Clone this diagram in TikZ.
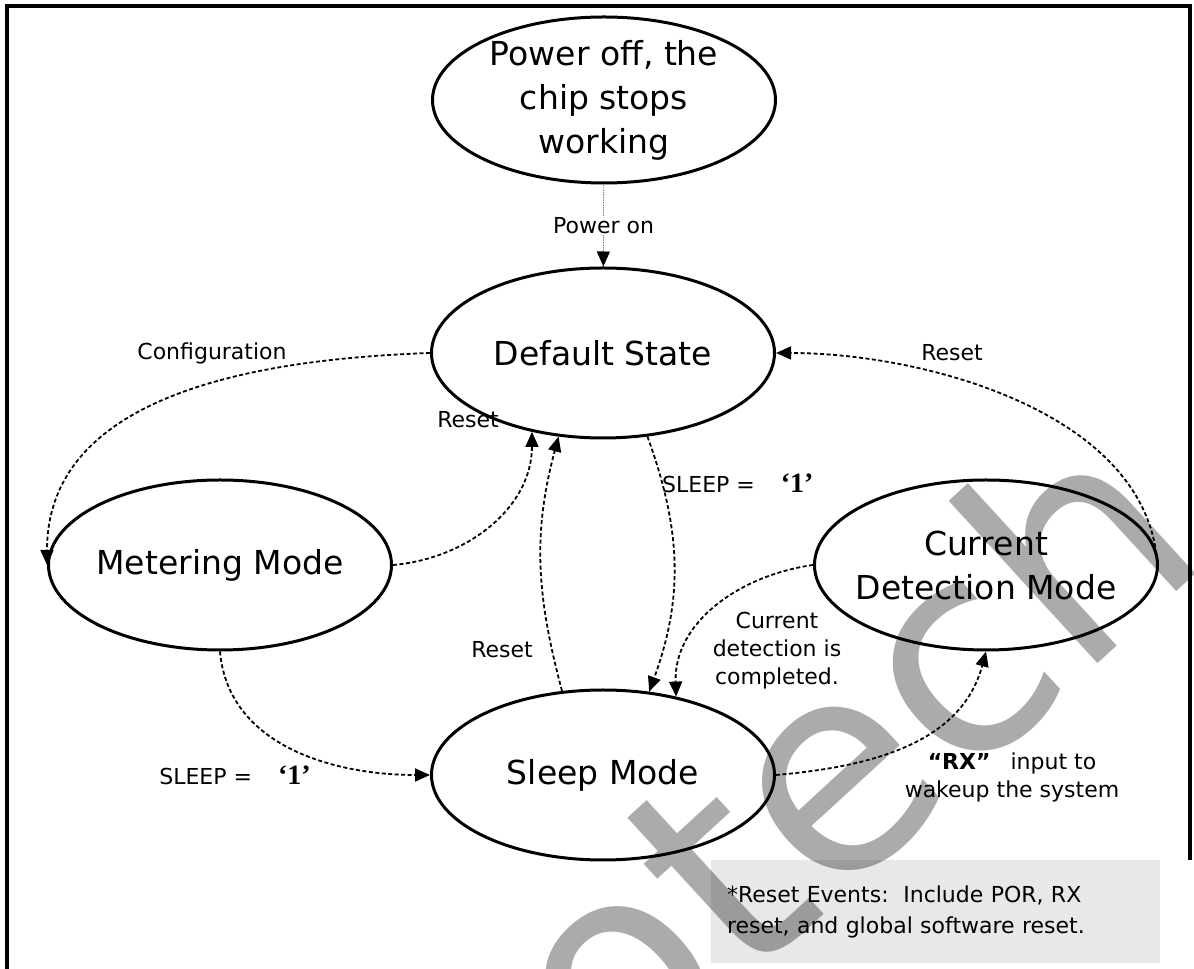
\documentclass[tikz,border=0pt]{standalone}
\usepackage{fontspec}
\setmainfont{DejaVu Sans}
\newfontfamily\quotefont{Liberation Serif}
\usetikzlibrary{shapes.geometric,arrows.meta}
\definecolor{notegray}{HTML}{E8E8E8}
\tikzset{
  state/.style={draw,ellipse,line width=3pt,minimum width=343pt,minimum height=170pt,inner sep=0pt},
  statelbl/.style={font=\fontsize{33}{44}\selectfont,align=center},
  trans/.style={line width=1.8pt,dash pattern=on 4pt off 2.5pt,-{Triangle[length=15pt,width=13pt]}},
  lbl/.style={font=\fontsize{22}{28}\selectfont,align=center,inner sep=1pt},
  notebox/.style={fill=notegray,minimum width=449pt,minimum height=103pt,text width=417pt,align=left,
    inner xsep=16pt,font=\fontsize{22}{31}\selectfont},
}
\newcommand{\one}{{\quotefont\bfseries\fontsize{28}{28}\selectfont ‘1’}}
\begin{document}
\begin{tikzpicture}[x=1pt,y=1pt]
  \useasboundingbox (0,0) rectangle (1194,969);
  \draw[line width=4pt] (7,-20) -- (7,963) -- (1190,963) -- (1190,109);
  \node[notebox] (note) at (935.5,57.5) {*Reset Events:\ \ Include POR, RX\\reset, and global software reset.};
  \node[state,minimum height=166pt,label={[statelbl]center:Power off, the\\chip stops\\working}] (pwroff) at (604,869) {};
  \node[state,label={[statelbl]center:Default State}] (default) at (603,616) {};
  \node[state,label={[statelbl]center:Metering Mode}] (meter) at (220,404) {};
  \node[state,label={[statelbl]center:Current\\Detection Mode}] (detect) at (986,404) {};
  \node[state,label={[statelbl]center:Sleep Mode}] (sleep) at (603,194) {};
  \draw[line width=0.8pt,gray,dash pattern=on 1.5pt off 1pt,-{Triangle[length=15pt,width=13pt,black]}]
    (pwroff) -- node[lbl,fill=white,text=black] (lpwr) {Power on} (default);
  \draw[trans] (default.west) to[out=182,in=90] (meter.west);
  \draw[trans] (meter.east) to[out=5,in=-90] (default.-132);
  \draw[trans] (sleep.116) to[out=105,in=-105] (default.-118);
  \draw[trans] (default.-62) to[out=-70,in=70] (sleep.61);
  \draw[trans] (detect.west) to[out=188,in=92] (sleep.47);
  \draw[trans] (sleep.east) to[out=5,in=-105] (detect.south);
  \draw[trans] (detect.6) to[out=100,in=0,looseness=0.85] (default.east);
  \draw[trans] (meter.south) to[out=-85,in=180] (sleep.west);
  \node[lbl] (lcfg) at (212,616) {Configuration};
  \node[lbl] (lrst1) at (468,549) {Reset};
  \node[lbl] (lrst2) at (502,319) {Reset};
  \node[lbl,anchor=west] (lslp1) at (661,486) {SLEEP =\hspace{26pt}\one};
  \node[lbl] (lcur) at (777,318) {Current\\detection is\\completed.};
  \node[lbl] (lrx) at (1012,192) {\textbf{“RX”}\hspace{20pt}input to\\wakeup the system};
  \node[lbl] (lrst3) at (952,616) {Reset};
  \node[lbl] (lslp2) at (235,194) {SLEEP =\hspace{26pt}\one};
  \node[rotate=42.5,anchor=base west,opacity=0.33,font=\fontsize{290}{290}\selectfont] (wmark) at (612,-140) {otech};
\end{tikzpicture}
\end{document}
